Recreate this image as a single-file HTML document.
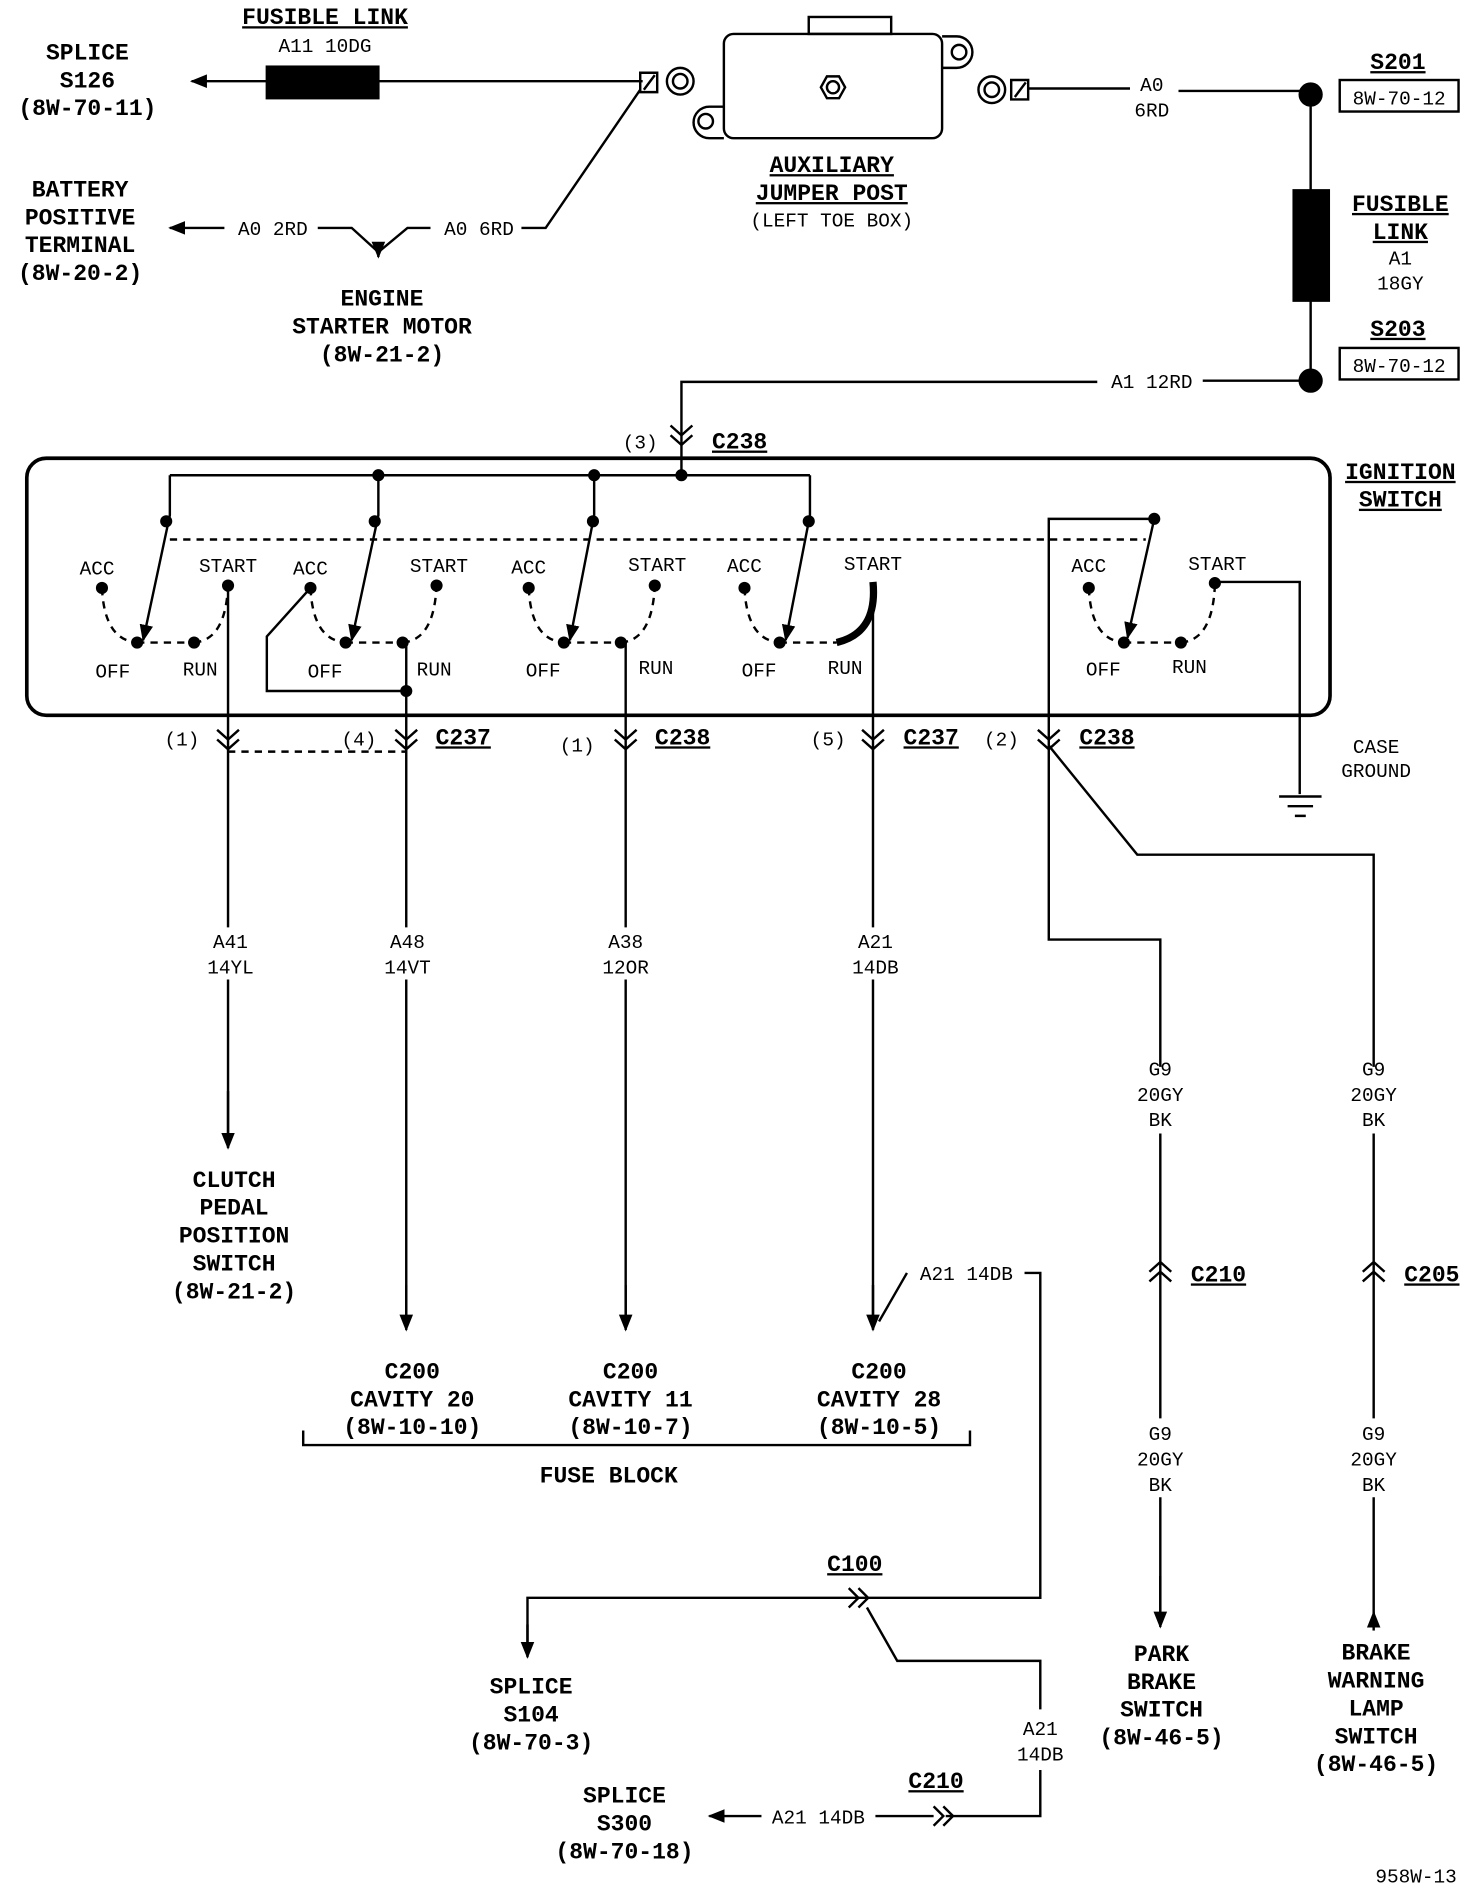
<!DOCTYPE html>
<html><head><meta charset="utf-8"><style>
html,body{margin:0;padding:0;background:#fff;}
svg{display:block}
.b{font-family:"Liberation Mono",monospace;font-weight:bold;font-size:19px;fill:#000;text-anchor:middle}
.t{font-family:"Liberation Mono",monospace;font-size:16px;fill:#000;text-anchor:middle}
.u{text-decoration:underline}
</style></head><body>
<svg width="1472" height="1890" viewBox="0 0 1214 1559" xmlns="http://www.w3.org/2000/svg">
<defs>
<marker id="ar" viewBox="0 0 10 10" refX="9" refY="5" markerWidth="7" markerHeight="7" orient="auto-start-reverse"><path d="M0,1 L10,5 L0,9 z" fill="#000"/></marker>
</defs>
<g fill="none" stroke="#000" stroke-width="2">
<line x1="530" y1="67" x2="158" y2="67" marker-end="url(#ar)"/>
<rect x="220" y="55" width="92" height="26" fill="#000"/>
<path d="M528,60 h14 v16 h-14 z M531,74 l9,-12"/>
<circle cx="561" cy="67" r="11"/><circle cx="561" cy="67" r="6"/>
<rect x="597" y="28" width="180" height="86" rx="8"/>
<rect x="667" y="14" width="68" height="14"/>
<path d="M597,88 h-12 a13,13 0 0 0 0,26 h12"/><circle cx="582" cy="100" r="6"/>
<path d="M777,30 h12 a13,13 0 0 1 0,26 h-12"/><circle cx="791" cy="43" r="6"/>
<polygon points="677,72 682,63 692,63 697,72 692,81 682,81"/><circle cx="687" cy="72" r="5"/>
<circle cx="818" cy="74" r="11"/><circle cx="818" cy="74" r="6"/>
<path d="M834,66 h14 v16 h-14 z M837,80 l9,-12"/>
<line x1="848" y1="73" x2="932" y2="73"/>
<line x1="972" y1="75" x2="1080" y2="75"/>
<circle cx="1081" cy="78" r="9" fill="#000"/>
<rect x="1105" y="66" width="98" height="26"/>
<line x1="1081" y1="78" x2="1081" y2="313"/>
<rect x="1067" y="157" width="29" height="91" fill="#000"/>
<circle cx="1081" cy="314" r="9" fill="#000"/>
<rect x="1105" y="287" width="98" height="26"/>
<line x1="1081" y1="314" x2="992" y2="314"/>
<path d="M905,315 H562 V392"/>
<path d="M553,351 l9,8 l9,-8 M553,359 l9,8 l9,-8"/>
<line x1="185" y1="188" x2="140" y2="188" marker-end="url(#ar)"/>
<path d="M262,188 H290 L312,208 L336,188 H355"/>
<line x1="312" y1="200" x2="312" y2="212" marker-end="url(#ar)"/>
<path d="M430,188 H450 L528,74"/>
<rect x="22" y="378" width="1075" height="212" rx="16" stroke-width="3"/>
<path d="M140,392 H668"/>
<circle cx="312" cy="392" r="4" fill="#000"/><circle cx="490" cy="392" r="4" fill="#000"/><circle cx="562" cy="392" r="4" fill="#000"/>
<line x1="140" y1="445" x2="945" y2="445" stroke-dasharray="6,5"/>
</g>
<g fill="none" stroke="#000" stroke-width="2">
<g>
<path d="M140,392 V425 L118,528" marker-end="url(#ar)"/><circle cx="137" cy="430" r="4" fill="#000"/>
<path d="M84,485 Q86,528 113,530 M113,530 H160 M160,530 Q186,528 188,483" stroke-dasharray="6,5"/>
<circle cx="84" cy="485" r="4" fill="#000"/><circle cx="188" cy="483" r="4" fill="#000"/><circle cx="113" cy="530" r="4" fill="#000"/><circle cx="160" cy="530" r="4" fill="#000"/>
</g>
<g transform="translate(172,0)">
<path d="M140,392 V425 L118,528" marker-end="url(#ar)"/><circle cx="137" cy="430" r="4" fill="#000"/>
<path d="M84,485 Q86,528 113,530 M113,530 H160 M160,530 Q186,528 188,483" stroke-dasharray="6,5"/>
<circle cx="84" cy="485" r="4" fill="#000"/><circle cx="188" cy="483" r="4" fill="#000"/><circle cx="113" cy="530" r="4" fill="#000"/><circle cx="160" cy="530" r="4" fill="#000"/>
</g>
<g transform="translate(352,0)">
<path d="M138,392 V425 L118,528" marker-end="url(#ar)"/><circle cx="137" cy="430" r="4" fill="#000"/>
<path d="M84,485 Q86,528 113,530 M113,530 H160 M160,530 Q186,528 188,483" stroke-dasharray="6,5"/>
<circle cx="84" cy="485" r="4" fill="#000"/><circle cx="188" cy="483" r="4" fill="#000"/><circle cx="113" cy="530" r="4" fill="#000"/><circle cx="160" cy="530" r="4" fill="#000"/>
</g>
<g transform="translate(530,0)">
<path d="M138,392 V425 L118,528" marker-end="url(#ar)"/><circle cx="137" cy="430" r="4" fill="#000"/>
<path d="M84,485 Q86,528 113,530" stroke-dasharray="6,5"/>
<path d="M160,530 Q194,522 190,480" stroke-width="6"/>
<line x1="113" y1="530" x2="160" y2="530" stroke-dasharray="6,5"/>
<circle cx="84" cy="485" r="4" fill="#000"/><circle cx="113" cy="530" r="4" fill="#000"/>
</g>
<g transform="translate(814,0)">
<path d="M138,428 L116,526" marker-end="url(#ar)"/><circle cx="138" cy="428" r="4" fill="#000"/>
<path d="M84,485 Q86,528 113,530 M113,530 H160 M160,530 Q186,528 188,483" stroke-dasharray="6,5"/>
<circle cx="84" cy="485" r="4" fill="#000"/><circle cx="188" cy="481" r="4" fill="#000"/><circle cx="113" cy="530" r="4" fill="#000"/><circle cx="160" cy="530" r="4" fill="#000"/>
</g>
<path d="M952,428 H865 V775 H957 V880"/>
<path d="M1003,480 H1072 V655"/>
<path d="M1055,657 h35 M1062,665 h21 M1068,673 h9"/>
<path d="M256,485 L220,525 V570 H335"/><circle cx="335" cy="570" r="4" fill="#000"/>
<path d="M188,483 V765 M188,808 V945" /><line x1="188" y1="900" x2="188" y2="947" marker-end="url(#ar)"/>
<path d="M335,530 V765 M335,808 V1095"/><line x1="335" y1="1060" x2="335" y2="1097" marker-end="url(#ar)"/>
<path d="M516,530 V765 M516,808 V1095"/><line x1="516" y1="1060" x2="516" y2="1097" marker-end="url(#ar)"/>
<path d="M720,485 V765 M720,808 V1095"/><line x1="720" y1="1060" x2="720" y2="1097" marker-end="url(#ar)"/>
<path d="M748,1050 L725,1090"/>
<line x1="188" y1="620" x2="335" y2="620" stroke-dasharray="6,5"/>
<path d="M179,602 l9,8 l9,-8 M179,610 l9,8 l9,-8"/>
<path d="M326,602 l9,8 l9,-8 M326,610 l9,8 l9,-8"/>
<path d="M507,602 l9,8 l9,-8 M507,610 l9,8 l9,-8"/>
<path d="M711,602 l9,8 l9,-8 M711,610 l9,8 l9,-8"/>
<path d="M856,602 l9,8 l9,-8 M856,610 l9,8 l9,-8"/>
<path d="M865,615 L938,705 H1133 V880"/>
<path d="M957,935 V1170 M957,1235 V1340"/><line x1="957" y1="1300" x2="957" y2="1342" marker-end="url(#ar)"/>
<path d="M948,1049 l9,-8 l9,8 M948,1057 l9,-8 l9,8"/>
<path d="M1133,935 V1170 M1133,1235 V1340"/><line x1="1133" y1="1345" x2="1133" y2="1330" marker-end="url(#ar)"/>
<path d="M1124,1049 l9,-8 l9,8 M1124,1057 l9,-8 l9,8"/>
<path d="M250,1180 V1192 H800 V1180"/>
<path d="M845,1050 H858 V1318 H435 V1365"/><line x1="435" y1="1340" x2="435" y2="1367" marker-end="url(#ar)"/>
<path d="M700,1310 l8,8 l-8,8 M708,1310 l8,8 l-8,8"/>
<path d="M715,1326 L740,1370 H858 V1410 M858,1460 V1498 H780"/>
<path d="M770,1490 l8,8 l-8,8 M778,1490 l8,8 l-8,8"/>
<line x1="770" y1="1498" x2="722" y2="1498"/>
<line x1="628" y1="1498" x2="585" y2="1498" marker-end="url(#ar)"/>
</g>
<text class="b u" x="268" y="20">FUSIBLE LINK</text>
<text class="t" x="268" y="43">A11 10DG</text>
<text class="b" x="72" y="49">SPLICE</text><text class="b" x="72" y="72">S126</text><text class="b" x="72" y="95">(8W-70-11)</text>
<text class="b u" x="686" y="142">AUXILIARY</text><text class="b u" x="686" y="165">JUMPER POST</text>
<text class="t" x="686" y="187">(LEFT TOE BOX)</text>
<text class="t" x="950" y="75">A0</text><text class="t" x="950" y="96">6RD</text>
<text class="b u" x="1153" y="57">S201</text><text class="t" x="1154" y="86">8W-70-12</text>
<text class="b u" x="1155" y="174">FUSIBLE</text><text class="b u" x="1155" y="197">LINK</text>
<text class="t" x="1155" y="218">A1</text><text class="t" x="1155" y="239">18GY</text>
<text class="b u" x="1153" y="277">S203</text><text class="t" x="1154" y="307">8W-70-12</text>
<text class="t" x="950" y="320">A1 12RD</text>
<text class="t" x="528" y="370">(3)</text><text class="b u" x="610" y="370">C238</text>
<text class="b" x="66" y="162">BATTERY</text><text class="b" x="66" y="185">POSITIVE</text><text class="b" x="66" y="208">TERMINAL</text><text class="b" x="66" y="231">(8W-20-2)</text>
<text class="t" x="225" y="194">A0 2RD</text><text class="t" x="395" y="194">A0 6RD</text>
<text class="b" x="315" y="252">ENGINE</text><text class="b" x="315" y="275">STARTER MOTOR</text><text class="b" x="315" y="298">(8W-21-2)</text>
<text class="b u" x="1155" y="395">IGNITION</text><text class="b u" x="1155" y="418">SWITCH</text>
<text class="t" x="80" y="474">ACC</text><text class="t" x="188" y="472">START</text><text class="t" x="93" y="559">OFF</text><text class="t" x="165" y="557">RUN</text>
<text class="t" x="256" y="474">ACC</text><text class="t" x="362" y="472">START</text><text class="t" x="268" y="559">OFF</text><text class="t" x="358" y="557">RUN</text>
<text class="t" x="436" y="473">ACC</text><text class="t" x="542" y="471">START</text><text class="t" x="448" y="558">OFF</text><text class="t" x="541" y="556">RUN</text>
<text class="t" x="614" y="472">ACC</text><text class="t" x="720" y="470">START</text><text class="t" x="626" y="558">OFF</text><text class="t" x="697" y="556">RUN</text>
<text class="t" x="898" y="472">ACC</text><text class="t" x="1004" y="470">START</text><text class="t" x="910" y="557">OFF</text><text class="t" x="981" y="555">RUN</text>
<text class="t" x="150" y="615">(1)</text><text class="t" x="296" y="615">(4)</text><text class="b u" x="382" y="614">C237</text>
<text class="t" x="476" y="620">(1)</text><text class="b u" x="563" y="614">C238</text>
<text class="t" x="683" y="615">(5)</text><text class="b u" x="768" y="614">C237</text>
<text class="t" x="826" y="615">(2)</text><text class="b u" x="913" y="614">C238</text>
<text class="t" x="1135" y="621">CASE</text><text class="t" x="1135" y="641">GROUND</text>
<text class="t" x="190" y="782">A41</text><text class="t" x="190" y="803">14YL</text>
<text class="t" x="336" y="782">A48</text><text class="t" x="336" y="803">14VT</text>
<text class="t" x="516" y="782">A38</text><text class="t" x="516" y="803">12OR</text>
<text class="t" x="722" y="782">A21</text><text class="t" x="722" y="803">14DB</text>
<text class="t" x="957" y="887">G9</text><text class="t" x="957" y="908">20GY</text><text class="t" x="957" y="929">BK</text>
<text class="t" x="1133" y="887">G9</text><text class="t" x="1133" y="908">20GY</text><text class="t" x="1133" y="929">BK</text>
<text class="b" x="193" y="979">CLUTCH</text><text class="b" x="193" y="1002">PEDAL</text><text class="b" x="193" y="1025">POSITION</text><text class="b" x="193" y="1048">SWITCH</text><text class="b" x="193" y="1071">(8W-21-2)</text>
<text class="t" x="797" y="1056">A21 14DB</text>
<text class="b u" x="1005" y="1057">C210</text><text class="b u" x="1181" y="1057">C205</text>
<text class="b" x="340" y="1137">C200</text><text class="b" x="340" y="1160">CAVITY 20</text><text class="b" x="340" y="1183">(8W-10-10)</text>
<text class="b" x="520" y="1137">C200</text><text class="b" x="520" y="1160">CAVITY 11</text><text class="b" x="520" y="1183">(8W-10-7)</text>
<text class="b" x="725" y="1137">C200</text><text class="b" x="725" y="1160">CAVITY 28</text><text class="b" x="725" y="1183">(8W-10-5)</text>
<text class="b" x="502" y="1223">FUSE BLOCK</text>
<text class="t" x="957" y="1188">G9</text><text class="t" x="957" y="1209">20GY</text><text class="t" x="957" y="1230">BK</text>
<text class="t" x="1133" y="1188">G9</text><text class="t" x="1133" y="1209">20GY</text><text class="t" x="1133" y="1230">BK</text>
<text class="b u" x="705" y="1296">C100</text>
<text class="b" x="958" y="1370">PARK</text><text class="b" x="958" y="1393">BRAKE</text><text class="b" x="958" y="1416">SWITCH</text><text class="b" x="958" y="1439">(8W-46-5)</text>
<text class="b" x="1135" y="1369">BRAKE</text><text class="b" x="1135" y="1392">WARNING</text><text class="b" x="1135" y="1415">LAMP</text><text class="b" x="1135" y="1438">SWITCH</text><text class="b" x="1135" y="1461">(8W-46-5)</text>
<text class="b" x="438" y="1397">SPLICE</text><text class="b" x="438" y="1420">S104</text><text class="b" x="438" y="1443">(8W-70-3)</text>
<text class="t" x="858" y="1431">A21</text><text class="t" x="858" y="1452">14DB</text>
<text class="b u" x="772" y="1475">C210</text>
<text class="t" x="675" y="1504">A21 14DB</text>
<text class="b" x="515" y="1487">SPLICE</text><text class="b" x="515" y="1510">S300</text><text class="b" x="515" y="1533">(8W-70-18)</text>
<text class="t" x="1168" y="1553">958W-13</text>
</svg>
</body></html>
